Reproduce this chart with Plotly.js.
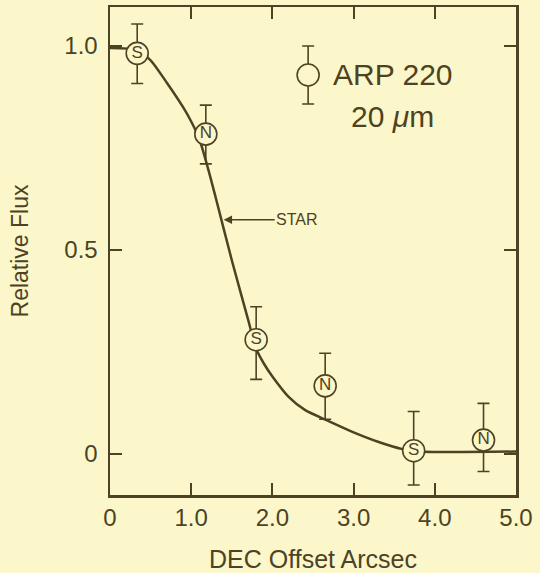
<!DOCTYPE html>
<html><head><meta charset="utf-8">
<script src="https://cdn.plot.ly/plotly-3.0.1.min.js"></script>
<style>html,body{margin:0;padding:0;background:#fbf7ca;}</style>
</head><body>
<div id="chart" style="width:540px;height:573px;"></div>
<script>
// Data
const pointX = [0.335, 1.18, 1.80, 2.65, 3.74, 4.60];
const pointY = [0.982, 0.784, 0.28, 0.167, 0.008, 0.034];
const errPlus = [0.072, 0.071, 0.081, 0.080, 0.096, 0.090];
const errMinus = [0.074, 0.073, 0.097, 0.082, 0.084, 0.077];
const pointLabels = ["S", "N", "S", "N", "S", "N"];

const curveX = [0, 0.33, 0.5, 0.7, 0.9, 1.0, 1.1, 1.2, 1.3, 1.5, 1.7, 1.8, 1.9, 2.0, 2.2, 2.4, 2.7, 3.0, 3.3, 3.6, 3.8, 5.0];
const curveY = [0.995, 0.99, 0.965, 0.91, 0.85, 0.815, 0.772, 0.705, 0.63, 0.475, 0.33, 0.258, 0.22, 0.19, 0.14, 0.108, 0.08, 0.053, 0.03, 0.012, 0.006, 0.006];

const xTickVals = [0, 1, 2, 3, 4, 5];
const xTickText = ["0", "1.0", "2.0", "3.0", "4.0", "5.0"];
const yTickVals = [0, 0.5, 1.0];
const yTickText = ["0", "0.5", "1.0"];

const keyX = [2.44];
const keyY = [0.929];
const keyErr = [0.071];

const ink = "#4d4324";
const bg = "#fbf7ca";
const font = "Liberation Sans, Arial, sans-serif";

const traces = [
  {x: curveX, y: curveY, mode: "lines", line: {color: ink, width: 2.5, shape: "spline", smoothing: 0.7}, hoverinfo: "skip", showlegend: false},
  {x: pointX, y: pointY, mode: "markers+text", text: pointLabels, textposition: "middle center",
   textfont: {family: font, size: 17, color: ink},
   marker: {symbol: "circle", size: 22, color: bg, line: {color: ink, width: 1.6}},
   error_y: {type: "data", symmetric: false, array: errPlus, arrayminus: errMinus, color: ink, thickness: 1.6, width: 6},
   showlegend: false},
  {x: keyX, y: keyY, mode: "markers",
   marker: {symbol: "circle", size: 22, color: bg, line: {color: ink, width: 1.6}},
   error_y: {type: "data", array: keyErr, color: ink, thickness: 1.6, width: 6},
   showlegend: false}
];

const axisCommon = {showgrid: false, zeroline: false, showline: true, linecolor: ink, linewidth: 2.5,
  mirror: "ticks", ticks: "inside", ticklen: 12, tickwidth: 2, tickcolor: ink,
  tickfont: {family: font, size: 24, color: ink}};

const layout = {
  width: 540, height: 573,
  paper_bgcolor: bg, plot_bgcolor: bg,
  margin: {l: 110, r: 24, t: 7, b: 78},
  showlegend: false,
  xaxis: Object.assign({}, axisCommon, {range: [0, 5], tickvals: xTickVals, ticktext: xTickText,
    title: {text: "DEC Offset Arcsec", font: {family: font, size: 25, color: ink}, standoff: 22}}),
  yaxis: Object.assign({}, axisCommon, {range: [-0.1005, 1.0956], tickvals: yTickVals, ticktext: yTickText,
    ticklabelstandoff: 5,
    title: {text: "Relative Flux", font: {family: font, size: 23, color: ink}, standoff: 30}}),
  annotations: [
    {x: 2.72, y: 0.929, xref: "x", yref: "y", text: "ARP 220", showarrow: false, xanchor: "left", yanchor: "middle",
     font: {family: font, size: 30, color: ink}},
    {x: 3.48, y: 0.827, xref: "x", yref: "y", text: "20 <i>μ</i>m", showarrow: false, xanchor: "center", yanchor: "middle",
     font: {family: font, size: 30, color: ink}},
    {x: 1.40, y: 0.574, xref: "x", yref: "y", text: "STAR", showarrow: true, ax: 73, ay: 0,
     arrowhead: 2, arrowsize: 1.2, arrowwidth: 1.4, arrowcolor: ink, standoff: 0,
     font: {family: font, size: 16, color: ink}}
  ]
};

Plotly.newPlot("chart", traces, layout, {displayModeBar: false, staticPlot: true});
</script>
</body></html>
